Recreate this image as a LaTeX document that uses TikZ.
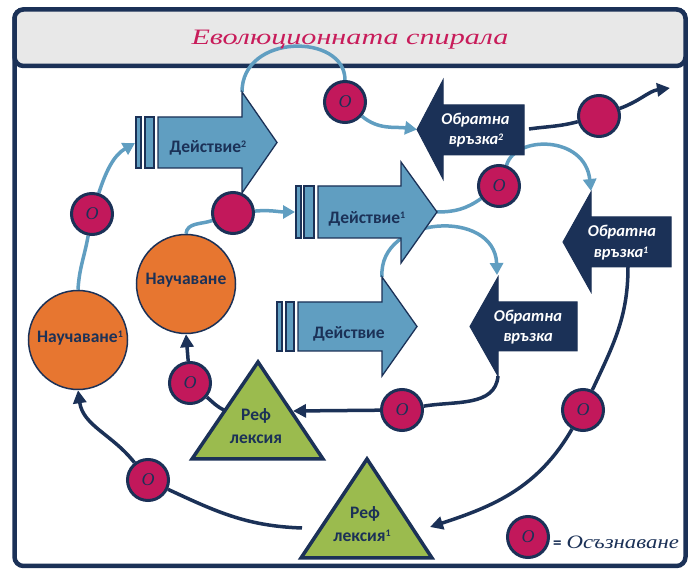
\documentclass[tikz,border=0pt]{standalone}
\usepackage{fontspec}
\setmainfont{Carlito}
\newfontfamily\handfont{Liberation Serif}
\usetikzlibrary{arrows.meta,backgrounds}
\definecolor{navy}{RGB}{27,49,87}
\definecolor{lblue}{RGB}{96,158,193}
\definecolor{crim}{RGB}{194,24,91}
\definecolor{orng}{RGB}{231,118,48}
\definecolor{grn}{RGB}{155,187,78}
\definecolor{hgray}{RGB}{232,232,232}
\definecolor{titlec}{RGB}{200,28,90}
\newcommand\awO{{\handfont\itshape\fontsize{18}{18}\selectfont O}}
\newcommand\supnum[1]{\raisebox{0.62ex}{\fontsize{10}{10}\selectfont #1}}
\begin{document}
\begin{tikzpicture}[x=1pt,y=1pt,
  lbline/.style={draw=lblue, line width=3.5pt},
  nvline/.style={draw=navy, line width=3.5pt},
  lbtip/.style={-{Triangle[length=12pt,width=13pt]}},
  nvtip/.style={-{Triangle[length=13pt,width=13pt]}},
  actshape/.style={fill=lblue, draw=navy, line width=1.3pt, line join=miter},
  fbshape/.style={fill=navy, draw=navy, line width=1pt, line join=miter},
  awc/.style={circle, fill=crim, draw=navy, line width=3pt, minimum size=41pt, inner sep=0pt, text=navy},
  lrn/.style={circle, fill=orng, draw=navy, line width=1.5pt, minimum size=99pt, inner sep=0pt},
  trishape/.style={fill=grn, draw=navy, line width=3.5pt, line join=miter},
  acttext/.style={font=\fontsize{17.5}{20}\selectfont\bfseries, text=navy, anchor=base, inner sep=0pt},
  fbtext/.style={font=\fontsize{16.5}{20}\selectfont\bfseries\itshape, text=white, anchor=base, inner sep=0pt},
  tritext/.style={font=\fontsize{17.5}{20}\selectfont\bfseries, text=navy, anchor=base, inner sep=0pt}
]
\useasboundingbox (0,0) rectangle (689,-569);
% coordinates
\coordinate (D2in) at (135,-143);
\coordinate (D2top) at (242,-92);
\coordinate (D1in) at (295,-212);
\coordinate (D1tip) at (437,-212);
\coordinate (D0top) at (382,-277);
\coordinate (F2tip) at (417,-129.5);
\coordinate (F2out) at (529,-129);
\coordinate (F1top) at (591,-191);
\coordinate (F1bot) at (628,-267);
\coordinate (F0top) at (497,-275);
\coordinate (F0bot) at (498,-376);
\coordinate (R0right) at (293,-411);
\coordinate (R0left) at (224,-410);
\coordinate (R1right) at (430,-527);
\coordinate (R1left) at (302,-528);
\coordinate (outend) at (670,-88);
% action arrows
\draw[actshape] (136,-117) rectangle (141,-168);
\draw[actshape] (145,-117) rectangle (154,-168);
\draw[actshape] (158,-117) -- (242,-117) -- (242,-92) -- (277,-142.5) -- (242,-193) -- (242,-168) -- (158,-168) -- cycle;
\draw[actshape] (296,-186) rectangle (301,-238);
\draw[actshape] (304,-186) rectangle (314,-238);
\draw[actshape] (318,-186) -- (401,-186) -- (401,-162) -- (437,-212) -- (401,-263) -- (401,-238) -- (318,-238) -- cycle;
\draw[actshape] (277,-302) rectangle (282,-351);
\draw[actshape] (286,-302) rectangle (294,-351);
\draw[actshape] (298,-302) -- (382,-302) -- (382,-277) -- (417,-326.5) -- (382,-376) -- (382,-351) -- (298,-351) -- cycle;
% feedback arrows
\draw[fbshape] (524,-105) -- (443,-105) -- (443,-80) -- (417,-129.5) -- (443,-179) -- (443,-155) -- (524,-155) -- cycle;
\draw[fbshape] (671,-217) -- (591,-217) -- (591,-192) -- (563,-242) -- (591,-292) -- (591,-267) -- (671,-267) -- cycle;
\draw[fbshape] (577,-302) -- (498,-302) -- (498,-277) -- (470,-326.5) -- (498,-376) -- (498,-351) -- (577,-351) -- cycle;
% triangles
\draw[trishape] (258,-362) -- (323,-459) -- (192,-459) -- cycle;
\draw[trishape] (367,-459) -- (432,-558) -- (301,-558) -- cycle;
% learning circles
\node[lrn] (N) at (186,-284) {};
\node[lrn] (N1) at (78,-340) {};
% awareness circles
\node[awc] (c1) at (345,-102) {\awO};
\node[awc] (c2) at (233,-213) {};
\node[awc] (c3) at (92,-214) {\awO};
\node[awc] (c4) at (599,-116) {};
\node[awc] (c5) at (499,-186) {\awO};
\node[awc] (c6) at (190,-383) {\awO};
\node[awc] (c7) at (402,-410) {\awO};
\node[awc] (c8) at (148,-480) {\awO};
\node[awc] (c9) at (583,-410) {\awO};
\node[awc] (c10) at (528,-537) {\awO};
% texts
\node[acttext] (t2) at (208,-153) {Действие\supnum{2}};
\node[acttext] (t1) at (367,-224) {Действие\supnum{1}};
\node[acttext] (t0) at (349,-339) {Действие};
\node[acttext] (tn) at (186,-285) {Научаване};
\node[acttext] (tn1) at (80,-343) {Научаване\supnum{1}};
\node[fbtext] (f2a) at (475.5,-125) {Обратна};
\node[fbtext] (f2b) at (476,-145) {връзка\supnum{2}};
\node[fbtext] (f1a) at (622,-237) {Обратна};
\node[fbtext] (f1b) at (621,-258) {връзка\supnum{1}};
\node[fbtext] (f0a) at (528,-322) {Обратна};
\node[fbtext] (f0b) at (528,-342) {връзка};
\node[tritext] (r0a) at (256,-421) {Реф};
\node[tritext] (r0b) at (256,-444) {лексия};
\node[tritext] (r1a) at (365,-519) {Реф};
\node[tritext] (r1b) at (362,-542) {лексия\supnum{1}};
\node[anchor=base, text=titlec, inner sep=0pt, font=\handfont\itshape\fontsize{22}{24}\selectfont] (title) at (350,-45) {\scalebox{1.37}[1]{Еволюционната спирала}};
\node[anchor=base west, text=navy, inner sep=0pt] (leg) at (553,-549) {{\bfseries\fontsize{17}{17}\selectfont =}\hspace{5pt}{\handfont\itshape\fontsize{19}{20}\selectfont\scalebox{1.2}[1]{Осъзнаване}}};
\begin{pgfonlayer}{background}
\draw[navy, line width=4.5pt, fill=white, rounded corners=9pt] (14.5,-9.5) rectangle (685.5,-566);
\draw[navy, line width=4.5pt, fill=hgray, rounded corners=9pt] (14.5,-9.5) rectangle (685.5,-66);
% light blue connectors
\draw[lbline] (N1.north) to[out=87,in=-100] (c3);
\draw[lbline,lbtip] (c3) to[out=72,in=210] (D2in);
\draw[lbline] (D2top) .. controls (242,-33) and (345,-33) .. (c1.north);
\draw[lbline,lbtip] (c1) to[out=-40,in=172] (F2tip);
\draw[lbline] (N.north) to[out=85,in=200] (c2);
\draw[lbline,lbtip] (c2) to[out=5,in=180] (D1in);
\draw[lbline] (D1tip) to[out=0,in=215] (c5);
\draw[lbline,lbtip] (c5.70) .. controls (515,-135) and (585,-135) .. (F1top);
\draw[lbline,lbtip] (D0top) .. controls (378,-215) and (495,-208) .. (F0top);
% navy connectors
\draw[nvline] (F0bot) to[out=-95,in=10] (c7);
\draw[nvline,nvtip] (c7) -- (R0right);
\draw[nvline] (R0left) to[out=155,in=-40] (c6);
\draw[nvline,nvtip] (c6) -- (N.south);
\draw[nvline] (F1bot) to[out=-90,in=65] (c9);
\draw[nvline,nvtip] (c9) to[out=-120,in=18] (R1right);
\draw[nvline] (R1left) to[out=178,in=-25] (c8);
\draw[nvline,nvtip] (c8) to[out=128,in=-82] (N1.south);
\draw[nvline] (F2out) to[out=8,in=195] (c4);
\draw[nvline,nvtip] (c4) to[out=20,in=188] (outend);
\end{pgfonlayer}
\end{tikzpicture}
\end{document}
